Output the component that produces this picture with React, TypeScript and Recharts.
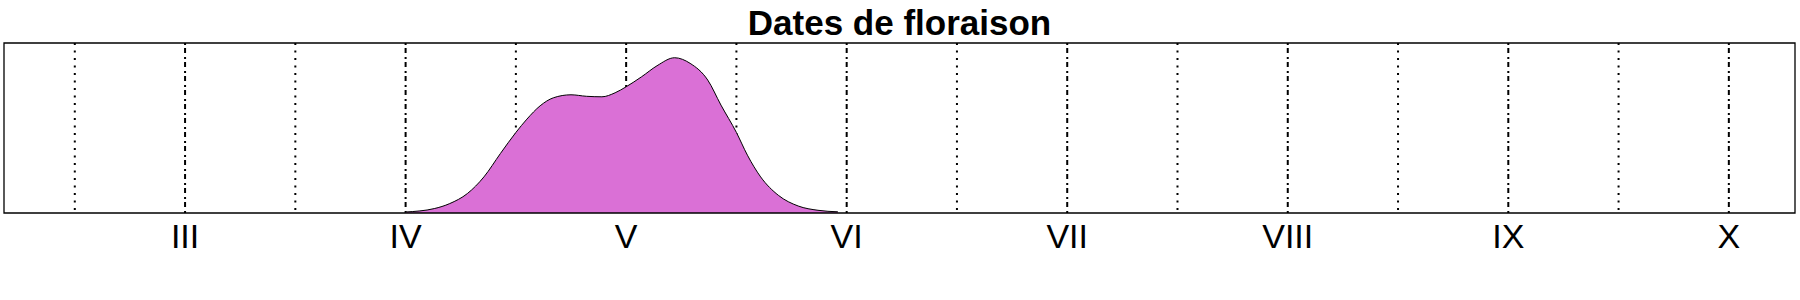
import React from 'react';
import { AreaChart, Area, XAxis, YAxis, CartesianGrid, ReferenceArea } from 'recharts';

// x in months (3 = March ... 10 = October), density
const months = [
  4.0, 4.13, 4.2, 4.28, 4.355, 4.43, 4.5, 4.55, 4.61, 4.67, 4.75, 4.82, 4.89, 4.95, 5.0, 5.07,
  5.14, 5.22, 5.29, 5.37, 5.43, 5.5, 5.55, 5.61, 5.69, 5.78, 5.87, 5.96,
];
const density = [
  0.01, 0.044, 0.094, 0.194, 0.36, 0.594, 0.804, 0.937, 1.07, 1.15, 1.18, 1.165, 1.16, 1.2, 1.26, 1.36,
  1.47, 1.55, 1.494, 1.327, 1.077, 0.804, 0.577, 0.36, 0.177, 0.07, 0.027, 0.012,
];

const monthTicks = [3, 4, 5, 6, 7, 8, 9, 10];
const monthLabels = ['III', 'IV', 'V', 'VI', 'VII', 'VIII', 'IX', 'X'];
const halfMonthLines = [2.5, 3.5, 4.5, 5.5, 6.5, 7.5, 8.5, 9.5];

const xDomain: [number, number] = [2.179, 10.3];
const yMax = 1.697;

const data = months.map((m, i) => ({ month: m, density: density[i] }));

const font = '"Liberation Sans", Arial, sans-serif';

const MonthTick = (props: any) => {
  const { x, y, payload } = props;
  const idx = monthTicks.indexOf(payload.value);
  return (
    <text x={x} y={y} dy={35} textAnchor="middle" fontSize={34} fontFamily={font} fill="#000">
      {idx >= 0 ? monthLabels[idx] : ''}
    </text>
  );
};

const App: React.FC = () => {
  return (
    <div style={{ position: 'absolute', left: 0, top: 0, width: 1800, height: 300, background: '#fff' }}>
      <div
        style={{
          position: 'absolute',
          left: 4,
          top: 5,
          width: 1791,
          textAlign: 'center',
          fontFamily: font,
          fontWeight: 'bold',
          fontSize: 35,
          lineHeight: '35px',
        }}
      >
        Dates de floraison
      </div>
      <AreaChart width={1800} height={300} data={data} margin={{ top: 43, right: 5, left: 4, bottom: 27 }}>
        {/* half-month lines dotted, month lines dot-dash, both under the density */}
        <CartesianGrid
          horizontal={false}
          verticalValues={halfMonthLines}
          stroke="#000"
          strokeWidth={2}
          strokeDasharray="2 5.5"
        />
        <CartesianGrid
          horizontal={false}
          verticalValues={monthTicks}
          stroke="#000"
          strokeWidth={2}
          strokeDasharray="2 3 5 4"
        />
        <XAxis
          dataKey="month"
          type="number"
          domain={xDomain}
          ticks={monthTicks}
          tick={<MonthTick />}
          tickLine={false}
          axisLine={false}
          tickSize={0}
          tickMargin={0}
          height={60}
          allowDataOverflow
        />
        <YAxis hide domain={[0, yMax]} allowDataOverflow />
        <Area
          type="monotone"
          dataKey="density"
          fill="#DA70D6"
          fillOpacity={1}
          stroke="#000"
          strokeWidth={1}
          isAnimationActive={false}
          dot={false}
          activeDot={false}
        />
        <ReferenceArea x1={xDomain[0]} x2={xDomain[1]} y1={0} y2={yMax} fill="none" stroke="#000" strokeWidth={1.3} />
      </AreaChart>
    </div>
  );
};

export default App;
